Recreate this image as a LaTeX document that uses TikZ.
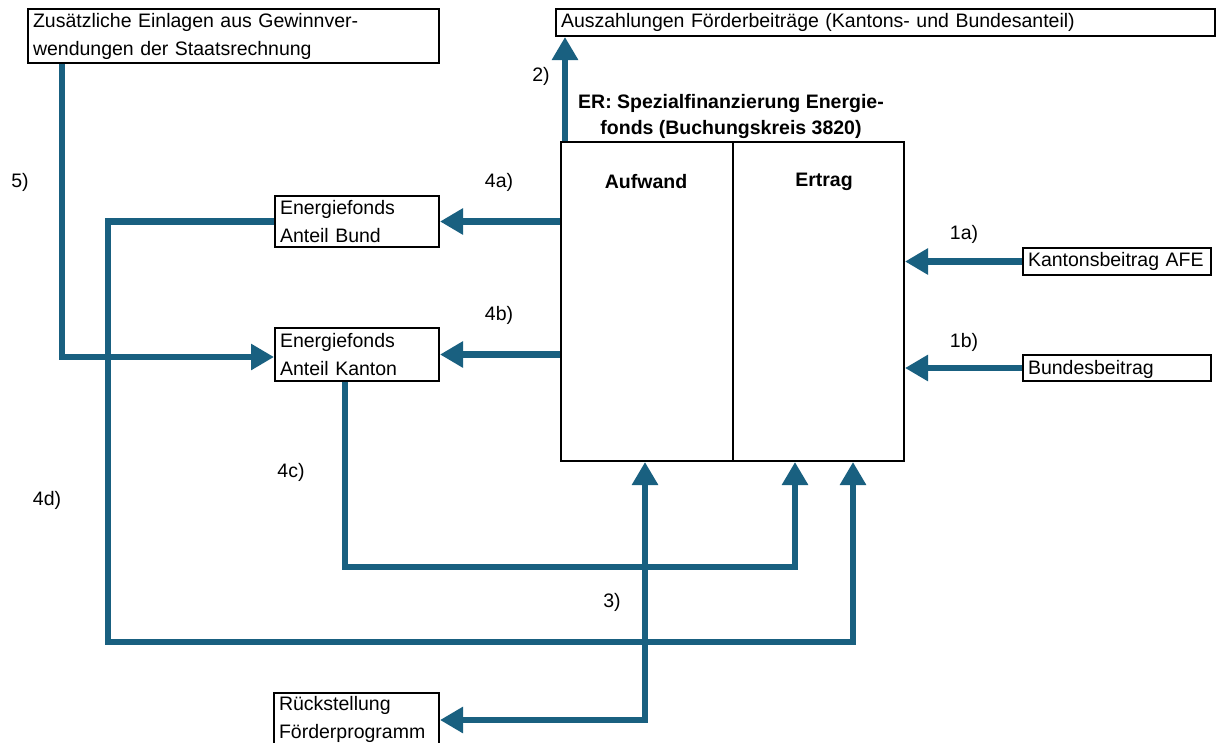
\documentclass[tikz,border=0pt]{standalone}
\usepackage{fontspec}
\setmainfont{Liberation Sans}
\usetikzlibrary{arrows.meta,calc}
\definecolor{flow}{RGB}{25,96,128}
\begin{document}
\begin{tikzpicture}[x=1pt,y=-1pt,
  txt/.style={font=\fontsize{19.5}{28}\selectfont},
  box/.style={txt,draw=black,line width=2pt,inner xsep=5pt,inner ysep=1pt,align=left,anchor=north west},
  lbl/.style={txt,inner sep=0pt},
  flowline/.style={draw=flow,line width=6.5pt,-{Triangle[width=25pt,length=23pt]}},
]
\useasboundingbox (0,0) rectangle (1217,742);
\fill[white] (0,0) rectangle (1217,742);

% boxes
\node[box,minimum width=411pt,minimum height=54pt,text width=401pt] (zus) at (27,8)
  {Zusätzliche Einlagen aus Gewinnver-\\wendungen der Staatsrechnung};
\node[box,minimum width=659pt,minimum height=27pt,text width=649pt] (ausz) at (555,8)
  {Auszahlungen Förderbeiträge (Kantons- und Bundesanteil)};
\node[box,minimum width=164pt,minimum height=51pt,text width=154pt] (bund) at (274,195)
  {Energiefonds\\Anteil Bund};
\node[box,minimum width=164pt,minimum height=53pt,text width=154pt] (kanton) at (274,327)
  {Energiefonds\\Anteil Kanton};
\node[box,minimum width=188pt,minimum height=27pt,text width=178pt] (kb) at (1022,247)
  {Kantonsbeitrag AFE};
\node[box,minimum width=188pt,minimum height=26pt,text width=178pt,text depth=2pt] (bb) at (1022,354)
  {Bundesbeitrag};
\node[box,minimum width=165pt,minimum height=53pt,text width=155pt] (rueck) at (273,692)
  {Rückstellung\\Förderprogramm};

% big account box
\node[draw=black,line width=2pt,minimum width=343pt,minimum height=319pt,anchor=north west,inner sep=0pt] (big) at (560,141) {};
\draw[line width=2pt] (big.north) -- (big.south);
\node[txt,font=\fontsize{19.5}{26}\selectfont\bfseries,align=center,inner sep=0pt] (title) at (731,116)
  {ER: Spezialfinanzierung Energie-\\fonds (Buchungskreis 3820)};
\node[lbl,font=\fontsize{19.5}{28}\selectfont\bfseries] (aufw) at (646,182) {Aufwand};
\node[lbl,font=\fontsize{19.5}{28}\selectfont\bfseries] (ertr) at (824,182) {Ertrag};

% labels
\node[lbl] (l2) at (541,76) {2)};
\node[lbl] (l4a) at (499,182) {4a)};
\node[lbl] (l4b) at (499,315) {4b)};
\node[lbl] (l1a) at (964,234) {1a)};
\node[lbl] (l1b) at (964,342) {1b)};
\node[lbl] (l5) at (20,182) {5)};
\node[lbl] (l4d) at (47,500) {4d)};
\node[lbl] (l4c) at (291,472) {4c)};
\node[lbl] (l3) at (612,602) {3)};

% coordinates
\coordinate (top2) at ($(big.north west)+(5,0)$);
\coordinate (c5) at (62,357);
\coordinate (d4) at (108,642);
\coordinate (c4) at (345,567);
\coordinate (c3) at (645,720);
\coordinate (in3) at ($(big.south west)+(85,0)$);
\coordinate (in4c) at ($(big.south west)+(235,0)$);
\coordinate (in4d) at ($(big.south west)+(293,0)$);

% connectors
\draw[flowline] (top2) -- (top2 |- ausz.south);
\draw[flowline] (big.west |- bund.east) -- (bund.east);
\draw[flowline] (big.west |- kanton.east) -- (kanton.east);
\draw[flowline] (kb.west) -- (big.east |- kb.west);
\draw[flowline] (bb.west) -- (big.east |- bb.west);
\draw[flowline] (zus.south -| c5) -- (c5) -- (c5 -| kanton.west);
\draw[flowline] (bund.west) -| (d4) -| (in4d);
\draw[flowline] (kanton.south -| c4) -- (c4) -| (in4c);
\draw[draw=flow,line width=6.5pt,{Triangle[width=25pt,length=23pt]}-{Triangle[width=25pt,length=23pt]}] (in3) -- (c3) -- (c3 -| rueck.east);
\end{tikzpicture}
\end{document}
